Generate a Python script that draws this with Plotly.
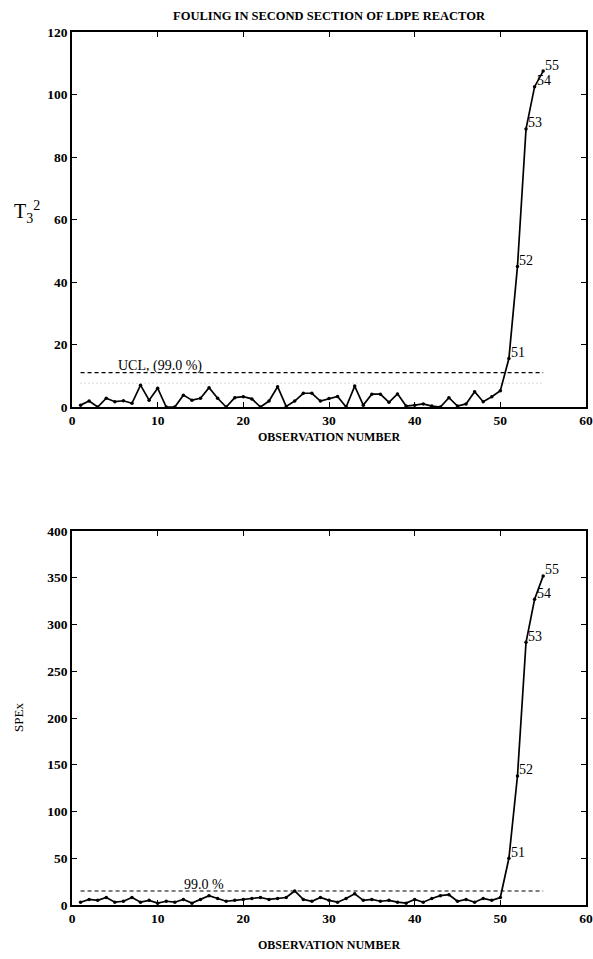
import plotly.graph_objects as go

# ---------------- data ----------------
obs = list(range(1, 56))

t2_values = [0.6, 1.9, 0.0, 2.8, 1.7, 2.0, 1.2, 7.0, 2.2, 6.0,
             0.0, 0.0, 3.8, 2.2, 2.8, 6.2, 2.8, 0.0, 3.0, 3.3,
             2.6, 0.0, 1.9, 6.5, 0.2, 1.9, 4.4, 4.4, 1.9, 2.7,
             3.4, 0.0, 6.7, 0.6, 4.1, 4.1, 1.5, 4.2, 0.3, 0.6,
             1.0, 0.3, 0.0, 3.0, 0.3, 1.0, 4.9, 1.7, 3.3, 5.2,
             15.5, 45.0, 89.0, 102.5, 107.5]

spe_values = [3, 6, 5, 8, 3, 4, 8, 3, 5, 2,
              4, 3, 6, 2, 6, 10, 7, 4, 5, 6,
              7, 8, 6, 7, 8, 15, 6, 4, 8, 5,
              3, 7, 12, 5, 6, 4, 5, 3, 2, 6,
              3, 7, 10, 11, 4, 6, 3, 7, 5, 8,
              50, 138, 281, 327, 352]

t2_ucl99 = 11.0
t2_lim95 = 7.6
spe_ucl99 = 15.0

label_obs = [51, 52, 53, 54, 55]
label_text = ["51", "52", "53", "54", "55"]

x_ticks = [0, 10, 20, 30, 40, 50, 60]
t2_ticks = [0, 20, 40, 60, 80, 100, 120]
spe_ticks = [0, 50, 100, 150, 200, 250, 300, 350, 400]

# ---------------- figure ----------------
W, H = 593, 959
m_t, m_b, m_l, m_r = 32, 54, 72, 7
ph = H - m_t - m_b
pw = W - m_l - m_r

serif = "Liberation Serif, Times New Roman, serif"

fig = go.Figure()

def add_panel(xa, ya, vals, ucl, lim95=None):
    fig.add_trace(go.Scatter(x=[1, 55], y=[ucl, ucl], mode="lines",
                             line=dict(color="black", width=1.2, dash="4px,3px"),
                             xaxis=xa, yaxis=ya, hoverinfo="skip"))
    if lim95 is not None:
        fig.add_trace(go.Scatter(x=[1, 55], y=[lim95, lim95], mode="lines",
                                 line=dict(color="#b0b0b0", width=1, dash="1px,3px"),
                                 xaxis=xa, yaxis=ya, hoverinfo="skip"))
    fig.add_trace(go.Scatter(x=obs, y=vals, mode="lines+markers",
                             line=dict(color="black", width=1.7),
                             marker=dict(color="black", size=3.5),
                             xaxis=xa, yaxis=ya))
    for o, t in zip(label_obs, label_text):
        fig.add_annotation(x=o, y=vals[o - 1], xref=xa, yref=ya, text=t,
                           showarrow=False, xanchor="left", yanchor="middle",
                           xshift=0, yshift=6,
                           font=dict(family=serif, size=14, color="black"))

add_panel("x", "y", t2_values, t2_ucl99, t2_lim95)
add_panel("x2", "y2", spe_values, spe_ucl99)

top_lo = (H - m_b - 407) / ph
bot_hi = (H - m_b - 531) / ph

axis_common = dict(showline=True, linecolor="black", linewidth=1.6, mirror="ticks",
                   ticks="inside", ticklen=5, tickcolor="black", showgrid=False,
                   zeroline=False, automargin=False,
                   tickfont=dict(family=serif, size=13.5, color="black", weight="bold"))

fig.update_layout(
    width=W, height=H,
    margin=dict(l=m_l, r=m_r, t=m_t, b=m_b),
    paper_bgcolor="white", plot_bgcolor="white",
    showlegend=False,
    xaxis=dict(domain=[0, 1], range=[0, 60], tickvals=x_ticks, anchor="y",
               title=dict(text="<b>OBSERVATION NUMBER</b>", font=dict(family=serif, size=12, color="black"), standoff=6),
               **axis_common),
    yaxis=dict(domain=[top_lo, 1], range=[0, 120], tickvals=t2_ticks, anchor="x", **axis_common),
    xaxis2=dict(domain=[0, 1], range=[0, 60], tickvals=x_ticks, anchor="y2",
                title=dict(text="<b>OBSERVATION NUMBER</b>", font=dict(family=serif, size=12, color="black"), standoff=16),
                **axis_common),
    yaxis2=dict(domain=[0, bot_hi], range=[0, 400], tickvals=spe_ticks, anchor="x2", **axis_common),
    title=dict(text="<b>FOULING IN SECOND SECTION OF LDPE REACTOR</b>",
               font=dict(family=serif, size=12.5, color="black"),
               x=(m_l + W - m_r) / 2 / W, xanchor="center", y=1 - 16 / H, yanchor="middle"),
)

fig.add_annotation(x=10.3, y=t2_ucl99, xref="x", yref="y", text="UCL, (99.0 %)",
                   showarrow=False, yanchor="bottom", yshift=-3,
                   font=dict(family=serif, size=14, color="black"))
fig.add_annotation(x=15.4, y=spe_ucl99, xref="x2", yref="y2", text="99.0 %",
                   showarrow=False, yanchor="bottom", yshift=-3,
                   font=dict(family=serif, size=14, color="black"))

fig.add_annotation(x=-60 / pw, y=(H - m_b - 212) / ph, xref="paper", yref="paper",
                   text="T<sub>3</sub><sup>2</sup>", showarrow=False,
                   xanchor="left", yanchor="middle",
                   font=dict(family=serif, size=20, color="black"))
fig.add_annotation(x=-54 / pw, y=(H - m_b - 718) / ph, xref="paper", yref="paper",
                   text="SPEx", showarrow=False, textangle=-90,
                   xanchor="center", yanchor="middle",
                   font=dict(family=serif, size=13, color="black"))

fig.write_html(
    "out.html",
    config={"displayModeBar": False},
    post_script=("document.body.style.margin='0px';"
                 "document.body.style.overflow='hidden';"
                 "document.documentElement.style.overflow='hidden';"),
)
